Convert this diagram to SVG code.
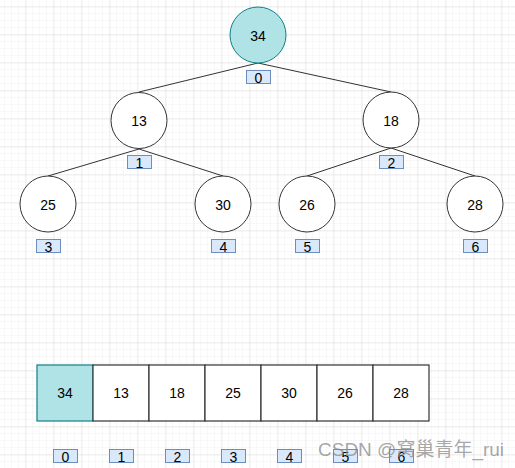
<svg xmlns="http://www.w3.org/2000/svg" width="515" height="468" viewBox="0 0 515 468">
<defs>
<pattern id="minor" width="7" height="7" patternUnits="userSpaceOnUse" x="5" y="0">
<path d="M7 0V7M0 7H7" fill="none" stroke="#f0f0f0" stroke-width="1"/>
</pattern>
<pattern id="major" width="28" height="28" patternUnits="userSpaceOnUse" x="-1.5" y="7.5">
<path d="M28 0V28M0 28H28" fill="none" stroke="#dcdcdc" stroke-width="1"/>
</pattern>
</defs>
<style>
.n{fill:#fff;stroke:#333;stroke-width:1}
.root{fill:#b0e3e6;stroke:#0e8088;stroke-width:1}
.lb{fill:#dae8fc;stroke:#6c8ebf;stroke-width:1}
.c{fill:#fff;stroke:#333;stroke-width:1.2}
.croot{fill:#b0e3e6;stroke:#0e8088;stroke-width:1.2}
text{font-family:"Liberation Sans",Arial,sans-serif;text-anchor:middle;dominant-baseline:central;fill:#000}
.t{font-size:14px}
.s{font-size:14px}
.e{stroke:#333;stroke-width:1;fill:none}
</style>
<rect width="515" height="468" fill="#fff"/>
<rect width="515" height="468" fill="url(#minor)"/>
<rect width="515" height="468" fill="url(#major)"/>
<g id="connectors">
<line class="e" x1="258" y1="63" x2="139" y2="92"/>
<line class="e" x1="258" y1="63" x2="391" y2="92"/>
<line class="e" x1="139" y1="149" x2="48" y2="176"/>
<line class="e" x1="139" y1="149" x2="223" y2="176"/>
<line class="e" x1="391" y1="148" x2="307" y2="176"/>
<line class="e" x1="391" y1="148" x2="475" y2="176"/>
</g>
<g id="node34"><circle class="root" cx="258" cy="35" r="28"/><text class="t" x="258" y="36">34</text></g>
<g id="node13"><circle class="n" cx="139" cy="120.5" r="28"/><text class="t" x="139" y="121">13</text></g>
<g id="node18"><circle class="n" cx="391" cy="120" r="28"/><text class="t" x="391" y="121">18</text></g>
<g id="node25"><circle class="n" cx="48" cy="204" r="28"/><text class="t" x="48" y="205">25</text></g>
<g id="node30"><circle class="n" cx="223" cy="204" r="28"/><text class="t" x="223" y="205">30</text></g>
<g id="node26"><circle class="n" cx="307" cy="204" r="28"/><text class="t" x="307" y="205">26</text></g>
<g id="node28"><circle class="n" cx="475" cy="204" r="28"/><text class="t" x="475" y="205">28</text></g>
<g id="lbl0"><rect class="lb" x="246.5" y="70.5" width="24" height="13"/><text class="s" x="258.5" y="77.5">0</text></g>
<g id="lbl1"><rect class="lb" x="127.5" y="155.5" width="24" height="13"/><text class="s" x="139.5" y="162.5">1</text></g>
<g id="lbl2"><rect class="lb" x="379.5" y="155.5" width="24" height="13"/><text class="s" x="391.5" y="162.5">2</text></g>
<g id="lbl3"><rect class="lb" x="36.5" y="239.5" width="24" height="13"/><text class="s" x="48.5" y="246.5">3</text></g>
<g id="lbl4"><rect class="lb" x="211.5" y="239.5" width="24" height="13"/><text class="s" x="223.5" y="246.5">4</text></g>
<g id="lbl5"><rect class="lb" x="295.5" y="239.5" width="24" height="13"/><text class="s" x="307.5" y="246.5">5</text></g>
<g id="lbl6"><rect class="lb" x="463.5" y="239.5" width="24" height="13"/><text class="s" x="475.5" y="246.5">6</text></g>
<g id="cell0"><rect class="croot" x="37" y="365" width="56" height="56"/><text class="t" x="65" y="393">34</text></g>
<g id="cell1"><rect class="c" x="93" y="365" width="56" height="56"/><text class="t" x="121" y="393">13</text></g>
<g id="cell2"><rect class="c" x="149" y="365" width="56" height="56"/><text class="t" x="177" y="393">18</text></g>
<g id="cell3"><rect class="c" x="205" y="365" width="56" height="56"/><text class="t" x="233" y="393">25</text></g>
<g id="cell4"><rect class="c" x="261" y="365" width="56" height="56"/><text class="t" x="289" y="393">30</text></g>
<g id="cell5"><rect class="c" x="317" y="365" width="56" height="56"/><text class="t" x="345" y="393">26</text></g>
<g id="cell6"><rect class="c" x="373" y="365" width="56" height="56"/><text class="t" x="401" y="393">28</text></g>
<g id="idx0"><rect class="lb" x="53.5" y="449.5" width="24" height="13"/><text class="s" x="65.5" y="456.5">0</text></g>
<g id="idx1"><rect class="lb" x="109.5" y="449.5" width="24" height="13"/><text class="s" x="121.5" y="456.5">1</text></g>
<g id="idx2"><rect class="lb" x="165.5" y="449.5" width="24" height="13"/><text class="s" x="177.5" y="456.5">2</text></g>
<g id="idx3"><rect class="lb" x="221.5" y="449.5" width="24" height="13"/><text class="s" x="233.5" y="456.5">3</text></g>
<g id="idx4"><rect class="lb" x="277.5" y="449.5" width="24" height="13"/><text class="s" x="289.5" y="456.5">4</text></g>
<g id="idx5"><rect class="lb" x="333.5" y="449.5" width="24" height="13"/><text class="s" x="345.5" y="456.5">5</text></g>
<g id="idx6"><rect class="lb" x="389.5" y="449.5" width="24" height="13"/><text class="s" x="401.5" y="456.5">6</text></g>
<text x="318" y="456" style="font-family:'Liberation Sans','Noto Sans CJK SC',sans-serif;font-size:19px;text-anchor:start;dominant-baseline:alphabetic;fill:#8a8a8a;fill-opacity:0.75">CSDN @窝巢青年_rui</text>
</svg>
